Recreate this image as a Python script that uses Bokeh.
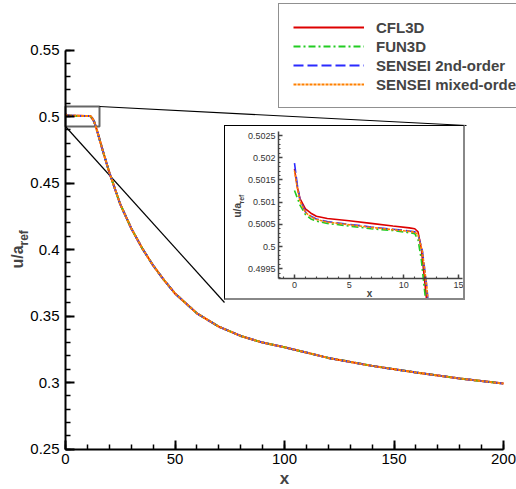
import math
from bokeh.plotting import figure
from bokeh.models import FixedTicker, Legend, LegendItem, Label, Range1d
from bokeh.layouts import column
from bokeh.embed import file_html
from bokeh.resources import INLINE

# ---------------- data ----------------
series_names = ["CFL3D", "FUN3D", "SENSEI 2nd-order", "SENSEI mixed-order"]

# near field (x <= ~12)
cfl3d_x = [0, 0.25, 0.5, 1, 1.5, 2, 3, 5, 7, 9, 10.5, 11, 11.3, 11.6, 12.0]
cfl3d_y = [0.50175, 0.50135, 0.50108, 0.50085, 0.50075, 0.50068, 0.50063, 0.50058,
           0.50052, 0.50046, 0.50042, 0.50040, 0.50033, 0.49995, 0.4990]
fun3d_x = [0, 0.25, 0.5, 1, 1.5, 2, 3, 5, 7, 9, 10.5, 11, 11.3, 11.6, 11.9]
fun3d_y = [0.50126, 0.50110, 0.50093, 0.50072, 0.50062, 0.50057, 0.50052, 0.50046,
           0.50040, 0.50036, 0.50031, 0.50029, 0.50015, 0.49970, 0.4990]
sensei2_x = [0, 0.25, 0.5, 1, 1.5, 2, 3, 5, 7, 9, 10.5, 11, 11.3, 11.7, 12.1]
sensei2_y = [0.50188, 0.50140, 0.50105, 0.50078, 0.50068, 0.50062, 0.50056, 0.50050,
             0.50044, 0.50039, 0.50035, 0.50033, 0.50028, 0.49990, 0.4991]
senseim_x = [0, 0.25, 0.5, 1, 1.5, 2, 3, 5, 7, 9, 10.5, 11, 11.3, 11.7, 12.1]
senseim_y = [0.50171, 0.50133, 0.50102, 0.50077, 0.50067, 0.50061, 0.50055, 0.50049,
             0.50043, 0.50038, 0.50034, 0.50032, 0.50027, 0.49988, 0.4991]

# far field, common to all four solutions
far_x = [13, 14, 15, 17, 20, 25, 30, 35, 40, 45, 50, 60, 70, 80, 90, 100,
         120, 140, 160, 180, 200]
far_y = [0.4965, 0.4915, 0.486, 0.4745, 0.458, 0.434, 0.416, 0.401, 0.388, 0.377,
         0.367, 0.352, 0.342, 0.335, 0.330, 0.3265, 0.3185, 0.3125, 0.3075, 0.303, 0.2992]

main_x_ticks = [0, 50, 100, 150, 200]
main_x_labels = ["0", "50", "100", "150", "200"]
main_y_ticks = [0.25, 0.3, 0.35, 0.4, 0.45, 0.5, 0.55]
main_y_labels = ["0.25", "0.3", "0.35", "0.4", "0.45", "0.5", "0.55"]
inset_x_ticks = [0, 5, 10, 15]
inset_x_labels = ["0", "5", "10", "15"]
inset_y_ticks = [0.4995, 0.5, 0.5005, 0.501, 0.5015, 0.502, 0.5025]
inset_y_labels = ["0.4995", "0.5", "0.5005", "0.501", "0.5015", "0.502", "0.5025"]

# ---------------- styles ----------------
FONT = "Liberation Sans"
colors = ["#dd0000", "#22cc22", "#2b2bff", "#ff8000"]
dashes = ["solid", "7 3 2 3", "10 4", "3 1"]

series = [(cfl3d_x, cfl3d_y), (fun3d_x, fun3d_y), (sensei2_x, sensei2_y), (senseim_x, senseim_y)]

W, H = 516, 489
# page pixel -> data helpers for the main plot (frame covers the whole canvas)
PX_X = 438 / 200.0
PX_Y = 399 / 0.3
def mx(px):
    return (px - 65) / PX_X
def my(py):
    return 0.5 + (116 - py) / PX_Y

p = figure(width=W, height=H, x_range=Range1d(mx(0), mx(W)), y_range=Range1d(my(H), my(0)),
           output_backend="svg", toolbar_location=None, min_border=0,
           min_border_left=0, min_border_right=0, min_border_top=0, min_border_bottom=0)
p.outline_line_color = None
p.grid.visible = False
p.background_fill_color = "white"
p.border_fill_color = "white"

def style_axis(ax, ticks, labels, minor, bounds, loc, size, tin, min_in, lw, standoff, color):
    ax.ticker = FixedTicker(ticks=ticks, minor_ticks=minor)
    ax.major_label_overrides = dict(zip(ticks, labels))
    ax.bounds = bounds
    ax.fixed_location = loc
    ax.axis_line_width = lw
    ax.axis_line_color = color
    ax.major_tick_line_color = color
    ax.minor_tick_line_color = color
    ax.major_tick_line_width = lw
    ax.minor_tick_line_width = lw * 0.75
    ax.major_tick_in = tin
    ax.major_tick_out = 0
    ax.minor_tick_in = min_in
    ax.minor_tick_out = 0
    ax.major_label_text_font = FONT
    ax.major_label_text_font_size = size
    ax.major_label_text_color = "black"
    ax.major_label_standoff = standoff

# zoom box and connectors (annotation)
p.quad(left=[0], right=[mx(99)], bottom=[my(126)], top=[my(106)], fill_color=None,
       line_color="#666666", line_width=2)
p.segment(x0=[mx(99), 0], y0=[my(106), my(126)], x1=[mx(466), mx(224)], y1=[my(125), my(302)],
          line_color="black", line_width=1.2)

renderers = []
for (sx, sy), c, d in zip(series, colors, dashes):
    r = p.line(sx + far_x, sy + far_y, line_color=c, line_dash=d, line_width=2)
    renderers.append(r)

style_axis(p.xaxis[0], main_x_ticks, main_x_labels, list(range(0, 201, 10)), (0, 200), 0.25,
           "15px", 9, 5, 2, 5, "black")
style_axis(p.yaxis[0], main_y_ticks, main_y_labels,
           [round(0.25 + 0.01 * i, 2) for i in range(31)], (0.25, 0.55), 0, "15px", 9, 5, 2, 6, "black")

# axis titles
p.add_layout(Label(x=mx(284), y=my(478), text="x", text_font=FONT, text_font_style="bold",
                   text_font_size="17px", text_align="center", text_baseline="middle"))
p.add_layout(Label(x=mx(17), y=my(268), text="u/a", text_font=FONT, text_font_style="bold",
                   text_font_size="16px", text_align="left", text_baseline="alphabetic",
                   angle=math.pi / 2))
p.add_layout(Label(x=mx(23), y=my(245), text="ref", text_font=FONT, text_font_style="bold",
                   text_font_size="12px", text_align="left", text_baseline="alphabetic",
                   angle=math.pi / 2))

# legend
PAD, GH, SP = 14, 18, 1
LH = 2 * PAD + 4 * GH + 3 * SP
legend = Legend(items=[LegendItem(label=n, renderers=[r]) for n, r in zip(series_names, renderers)],
                location=(278, H - 5 - LH), orientation="vertical",
                label_text_font=FONT, label_text_font_style="bold", label_text_font_size="15px",
                glyph_width=71, glyph_height=GH, label_height=GH, label_standoff=12,
                spacing=SP, padding=PAD, margin=0,
                border_line_color="#222222", border_line_width=1.5,
                background_fill_color="white", background_fill_alpha=1.0)
p.add_layout(legend)

# ---------------- inset ----------------
IW, IH = 241, 175
IL, IT = 225, 126          # page position of the inset canvas
IPX_X = 164 / 15.0
IPX_Y = 44400.0
def ix(px):
    return (px - 294) / IPX_X
def iy(py):
    return 0.5 + (246 - py) / IPX_Y

q = figure(width=IW, height=IH, x_range=Range1d(ix(IL), ix(IL + IW)), y_range=Range1d(iy(IT + IH), iy(IT)),
           output_backend="svg", toolbar_location=None, min_border=0,
           min_border_left=0, min_border_right=0, min_border_top=0, min_border_bottom=0)
q.outline_line_color = None
q.grid.visible = False
q.background_fill_color = "white"
q.border_fill_color = "white"

for (sx, sy), c, d in zip(series, colors, dashes):
    q.line(sx + far_x[:2], sy + far_y[:2], line_color=c, line_dash=d, line_width=1.6)

style_axis(q.xaxis[0], inset_x_ticks, inset_x_labels, list(range(-1, 16)), (ix(278), ix(462)), iy(278),
           "9px", 4, 2, 1.5, 3, "#444444")
style_axis(q.yaxis[0], inset_y_ticks, inset_y_labels,
           [round(0.4993 + 0.0001 * i, 4) for i in range(33)], (iy(278), iy(131)), ix(278), "9px", 4, 2, 1.5, 3,
           "#444444")
q.xaxis[0].major_label_text_color = "#333333"
q.yaxis[0].major_label_text_color = "#333333"

q.add_layout(Label(x=ix(369), y=iy(293), text="x", text_font=FONT, text_font_style="bold",
                   text_font_size="10px", text_align="center", text_baseline="middle"))
q.add_layout(Label(x=ix(237), y=iy(217), text="u/a", text_font=FONT, text_font_style="bold",
                   text_font_size="10px", text_align="left", text_baseline="alphabetic",
                   angle=math.pi / 2))
q.add_layout(Label(x=ix(241), y=iy(203), text="ref", text_font=FONT, text_font_style="bold",
                   text_font_size="7px", text_align="left", text_baseline="alphabetic",
                   angle=math.pi / 2))

q.styles = {"position": "absolute", "left": f"{IL - 1}px", "top": f"{IT - 1}px",
            "border-left": "1px solid #000", "border-top": "1px solid #000",
            "border-right": "2px solid #888", "border-bottom": "2px solid #888"}

layout = column(p, q)
layout.styles = {"position": "relative"}

open("out.html", "w").write(file_html(layout, INLINE))
